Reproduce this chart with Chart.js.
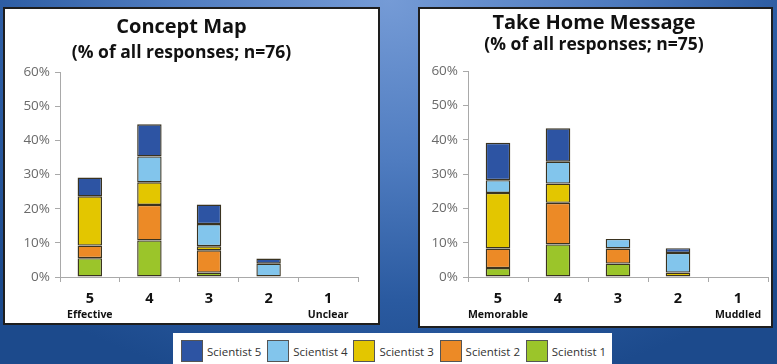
<!DOCTYPE html>
<html>
<head>
<meta charset="utf-8">
<script src="https://cdn.jsdelivr.net/npm/chart.js@4"></script>
<style>
  html, body { margin: 0; padding: 0; }
  body {
    width: 777px; height: 364px; overflow: hidden; position: relative;
    background: radial-gradient(ellipse 70% 110% at 50% 0%, #759bd6 0%, #4f7cc0 40%, #2a5aa0 75%, #1c4a8c 100%);
    font-family: "Open Sans", sans-serif;
  }
  .panel {
    position: absolute; box-sizing: border-box; background: #fff;
    border: 2px solid #1e1e1e;
  }
  .panel canvas { display: block; }
  #legend {
    position: absolute; left: 173px; top: 333px; width: 439px; height: 34px;
    background: #fff; box-sizing: border-box; padding-left: 8px; padding-top: 7px;
    display: flex; align-items: flex-start;
  }
  .item { display: flex; align-items: center; width: 87px; }
  .swatch { width: 20px; height: 20px; border: 1px solid #555; flex: none; }
  .item span { margin-left: 4px; font-size: 11.5px; color: #333; white-space: nowrap; }
</style>
</head>
<body>
<div class="panel" style="left:3px; top:7px; width:377px; height:318px;">
  <canvas id="concept" width="373" height="314"></canvas>
</div>
<div class="panel" style="left:418px; top:7px; width:355px; height:321px;">
  <canvas id="message" width="351" height="317"></canvas>
</div>
<div id="legend"></div>
<script>
// Score categories and their end-point descriptors
const scoreLabels = ['5', '4', '3', '2', '1'];
const conceptDescriptors = ['Effective', '', '', '', 'Unclear'];
const messageDescriptors = ['Memorable', '', '', '', 'Muddled'];

const seriesNames = ['Scientist 1', 'Scientist 2', 'Scientist 3', 'Scientist 4', 'Scientist 5'];
const seriesColors = ['#9bc52a', '#ec8a26', '#e3c600', '#82c5ec', '#2d54a3'];

// Concept Map (% of all responses; n=76)
const conceptS1 = [5.5, 10.7, 1.3, 0, 0];
const conceptS2 = [3.7, 10.4, 6.5, 0, 0];
const conceptS3 = [14.4, 6.6, 1.2, 0, 0];
const conceptS4 = [0, 7.6, 6.5, 3.9, 0];
const conceptS5 = [5.5, 9.4, 5.7, 1.5, 0];

// Take Home Message (% of all responses; n=75)
const messageS1 = [2.6, 9.5, 3.9, 0, 0];
const messageS2 = [5.7, 12.1, 4.4, 0, 0];
const messageS3 = [16.2, 5.6, 0, 1.3, 0];
const messageS4 = [3.7, 6.4, 2.8, 5.7, 0];
const messageS5 = [10.9, 9.7, 0, 1.4, 0];

const percentTicks = [0, 10, 20, 30, 40, 50, 60];

const AXIS = '#a9a9a9';

function makeChart(id, title, subtitle, series, descriptors, g) {
  return new Chart(document.getElementById(id), {
    type: 'bar',
    data: {
      labels: scoreLabels,
      datasets: series.map((values, i) => ({
        label: seriesNames[i],
        // empty segments are left out so they leave no outline
        data: values.map(v => (v === 0 ? null : v)),
        backgroundColor: seriesColors[i],
        borderColor: '#3a3320',
        borderWidth: 1.4,
        borderSkipped: false,
        categoryPercentage: 1,
        barPercentage: 0.41
      }))
    },
    options: {
      responsive: false,
      animation: false,
      layout: { padding: { left: 0, right: g.right, top: 0, bottom: g.bottom } },
      plugins: {
        legend: { display: false },
        tooltip: { enabled: false },
        title: {
          display: true, text: title, color: '#111',
          font: { family: 'Open Sans', size: 20, weight: '700' },
          padding: { top: g.titleTop, bottom: g.titleBottom }
        },
        subtitle: {
          display: true, text: subtitle, color: '#111',
          font: { family: 'Open Sans', size: 17.5, weight: '700' },
          padding: { top: 0, bottom: g.subBottom }
        }
      },
      scales: {
        x: {
          stacked: true,
          grid: { display: true, drawOnChartArea: false, color: AXIS, tickLength: 5, offset: true },
          border: { color: AXIS },
          ticks: { color: '#111', padding: 8, font: { family: 'Open Sans', size: 14.5, weight: '700' } },
          afterFit(s) { s.height = 28; }
        },
        x2: {
          type: 'category', labels: descriptors, position: 'bottom',
          grid: { display: false, drawTicks: false, tickLength: 0 },
          border: { display: false },
          ticks: { color: '#111', padding: 4, autoSkip: false, maxRotation: 0,
                   font: { family: 'Open Sans', size: 10.5, weight: '700' } },
          afterFit(s) { s.height = 16; }
        },
        y: {
          stacked: true, min: 0, max: 60,
          afterBuildTicks(s) { s.ticks = percentTicks.map(v => ({ value: v })); },
          grid: { display: true, drawOnChartArea: false, color: AXIS, tickLength: 5 },
          border: { color: AXIS },
          ticks: { color: '#6a6a6a', padding: 5, font: { family: 'Open Sans', size: 13.5 },
                   callback: v => v + '%' },
          afterFit(s) { s.width = g.yWidth; }
        }
      }
    }
  });
}

makeChart('concept', 'Concept Map', '(% of all responses; n=76)',
  [conceptS1, conceptS2, conceptS3, conceptS4, conceptS5], conceptDescriptors,
  { yWidth: 55, right: 20, bottom: 2, titleTop: 6, titleBottom: 4, subBottom: 8 });

makeChart('message', 'Take Home Message', '(% of all responses; n=75)',
  [messageS1, messageS2, messageS3, messageS4, messageS5], messageDescriptors,
  { yWidth: 48, right: 3, bottom: 5, titleTop: 2, titleBottom: 0, subBottom: 15 });

// Legend, listed from the top of the stack down
const legend = document.getElementById('legend');
for (let i = seriesNames.length - 1; i >= 0; i--) {
  const item = document.createElement('div');
  item.className = 'item';
  const sw = document.createElement('div');
  sw.className = 'swatch';
  sw.style.background = seriesColors[i];
  const txt = document.createElement('span');
  txt.textContent = seriesNames[i];
  item.appendChild(sw);
  item.appendChild(txt);
  legend.appendChild(item);
}
</script>
</body>
</html>
